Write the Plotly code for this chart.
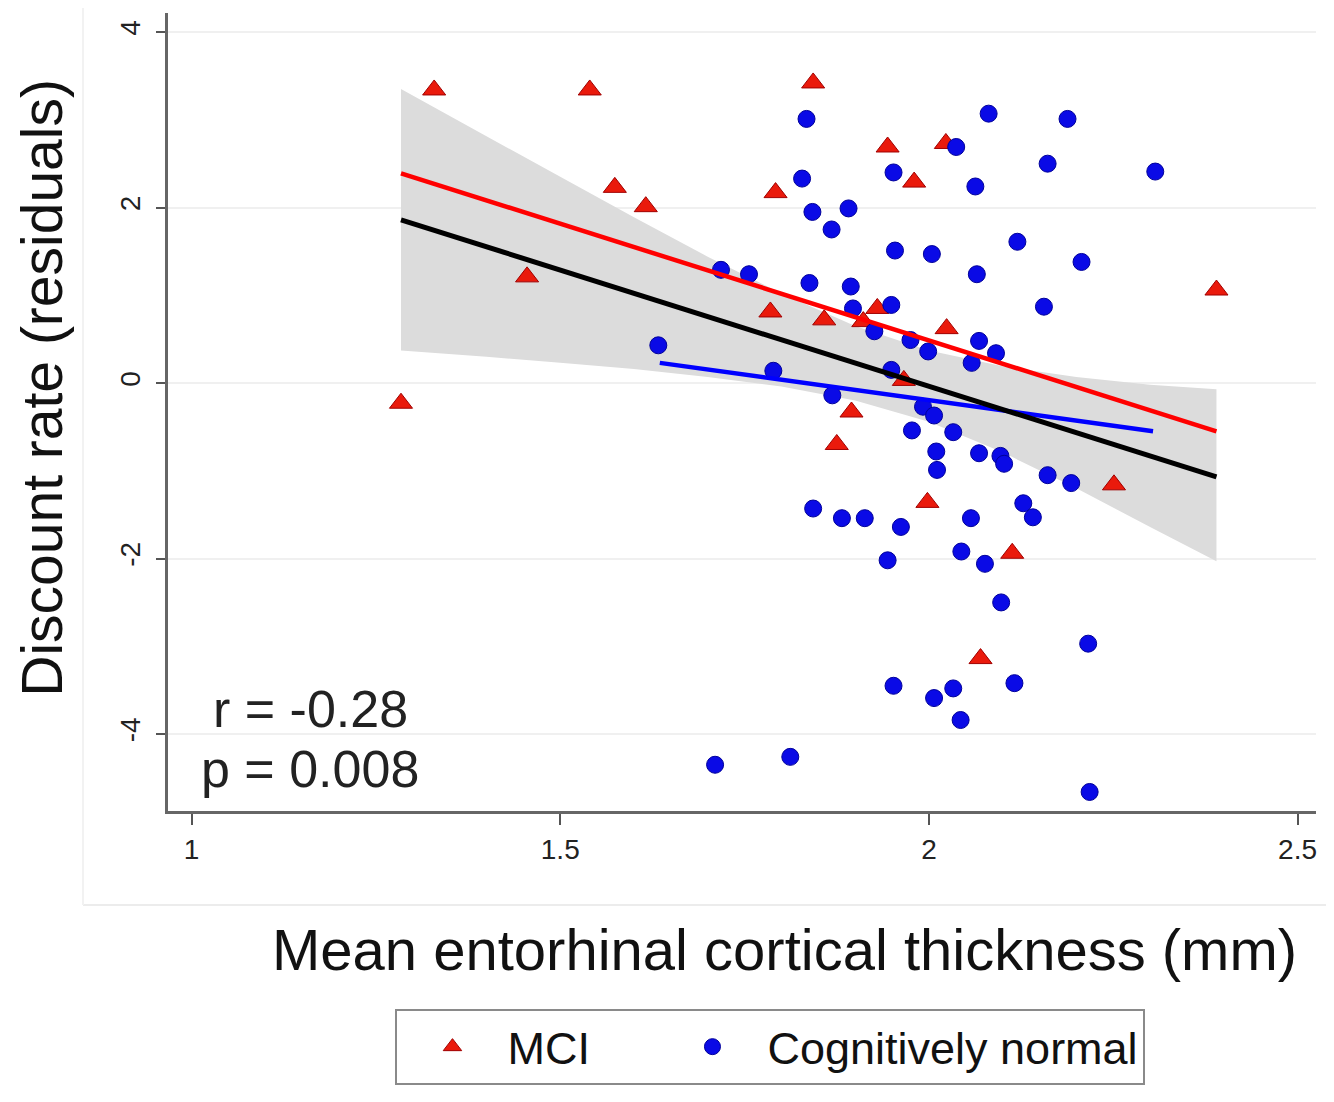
import plotly.graph_objects as go

# ---------------- data ----------------
mci_x = [1.329, 1.540, 1.843, 1.574, 1.616, 1.455, 1.284, 1.792, 1.944, 2.023,
         1.980, 2.390, 1.785, 1.858, 1.930, 1.911, 2.024, 1.966, 1.895, 1.875,
         1.998, 2.251, 2.113, 2.070]
mci_y = [3.34, 3.34, 3.42, 2.23, 2.01, 1.21, -0.23, 2.17, 2.69, 2.73,
         2.29, 1.06, 0.81, 0.72, 0.85, 0.70, 0.62, 0.03, -0.33, -0.70,
         -1.36, -1.16, -1.94, -3.14]

cn_x = [1.834, 2.081, 2.188, 2.037, 2.161, 2.307, 1.952, 2.063, 1.828, 1.842,
        1.891, 1.868, 1.954, 2.004, 2.120, 2.207, 2.065, 1.838, 1.894, 1.718,
        1.756, 2.156, 1.949, 1.897, 1.926, 1.975, 1.999, 2.068, 2.091, 2.058,
        1.789, 1.949, 1.869, 1.992, 2.007, 1.977, 2.033, 2.010, 2.068, 2.097,
        2.102, 2.011, 2.161, 2.193, 1.843, 1.882, 1.913, 1.962, 2.057, 2.128,
        2.141, 1.944, 2.044, 2.076, 2.098, 2.216, 1.952, 2.007, 2.033, 2.116,
        2.043, 1.710, 1.812, 2.218, 1.633]
cn_y = [3.01, 3.07, 3.01, 2.69, 2.50, 2.41, 2.40, 2.24, 2.33, 1.95,
        1.99, 1.75, 1.51, 1.47, 1.61, 1.38, 1.24, 1.14, 1.10, 1.29,
        1.24, 0.87, 0.89, 0.85, 0.59, 0.49, 0.36, 0.48, 0.34, 0.23,
        0.14, 0.15, -0.14, -0.27, -0.37, -0.54, -0.56, -0.78, -0.80, -0.83,
        -0.92, -0.99, -1.05, -1.14, -1.43, -1.54, -1.54, -1.64, -1.54, -1.37,
        -1.53, -2.02, -1.92, -2.06, -2.50, -2.97, -3.45, -3.59, -3.48, -3.42,
        -3.84, -4.35, -4.26, -4.66, 0.43]

# fitted lines (end points)
fit_all_x = [1.284, 2.390]
fit_all_y = [1.86, -1.07]
fit_mci_x = [1.284, 2.390]
fit_mci_y = [2.39, -0.55]
fit_cn_x = [1.635, 2.304]
fit_cn_y = [0.23, -0.55]

# 95% confidence band of the overall fit
ci_x = [1.284, 1.40, 1.50, 1.60, 1.70, 1.80, 1.90, 2.00, 2.10, 2.20, 2.30, 2.39]
ci_hi = [3.35, 2.81, 2.35, 1.89, 1.44, 1.02, 0.65, 0.37, 0.19, 0.07, -0.02, -0.07]
ci_lo = [0.37, 0.30, 0.23, 0.16, 0.07, -0.04, -0.20, -0.44, -0.79, -1.20, -1.64, -2.03]

x_ticks = [1, 1.5, 2, 2.5]
x_tick_text = ["1", "1.5", "2", "2.5"]
y_ticks = [-4, -2, 0, 2, 4]
y_tick_text = ["-4", "-2", "0", "2", "4"]

r_text = "r = -0.28"
p_text = "p = 0.008"

FONT = "Liberation Sans, Arial, Helvetica, sans-serif"
NB = "\u00a0"

fig = go.Figure()

fig.add_trace(go.Scatter(
    x=ci_x + ci_x[::-1], y=ci_hi + ci_lo[::-1],
    fill="toself", fillcolor="#dcdcdc", line=dict(width=0),
    mode="lines", hoverinfo="skip", showlegend=False))

fig.add_trace(go.Scatter(
    x=mci_x, y=mci_y, mode="markers", name="MCI" + NB * 5,
    marker=dict(symbol="triangle-up", size=20, color="#ea1a0c",
                line=dict(color="#a00000", width=1))))

fig.add_trace(go.Scatter(
    x=cn_x, y=cn_y, mode="markers", name="Cognitively normal",
    marker=dict(symbol="circle", size=17, color="#0a0ae6",
                line=dict(color="#00009a", width=1))))

fig.add_trace(go.Scatter(
    x=fit_cn_x, y=fit_cn_y, mode="lines", showlegend=False,
    line=dict(color="#0000ff", width=4.5)))
fig.add_trace(go.Scatter(
    x=fit_all_x, y=fit_all_y, mode="lines", showlegend=False,
    line=dict(color="#000000", width=5)))
fig.add_trace(go.Scatter(
    x=fit_mci_x, y=fit_mci_y, mode="lines", showlegend=False,
    line=dict(color="#ff0000", width=4.5)))

fig.add_annotation(
    x=1.161, y=-3.72, xref="x", yref="y", text=r_text, showarrow=False,
    xanchor="center", yanchor="middle",
    font=dict(family=FONT, size=52, color="#222222"))
fig.add_annotation(
    x=1.161, y=-4.40, xref="x", yref="y", text=p_text, showarrow=False,
    xanchor="center", yanchor="middle",
    font=dict(family=FONT, size=52, color="#222222"))

# axis titles
fig.add_annotation(
    x=0.5366, y=-0.174, xref="paper", yref="paper",
    text="Mean entorhinal cortical thickness (mm)", showarrow=False,
    xanchor="center", yanchor="middle",
    font=dict(family=FONT, size=58, color="#111111"))
fig.add_annotation(
    x=-0.110, y=0.530, xref="paper", yref="paper",
    text="Discount rate (residuals)", showarrow=False, textangle=-90,
    xanchor="center", yanchor="middle",
    font=dict(family=FONT, size=57, color="#111111"))

# faint outline of the plot region
fig.add_shape(type="line", xref="paper", yref="paper",
              x0=-0.074, x1=1.03, y0=-0.1178, y1=-0.1178,
              line=dict(color="#ececec", width=2), layer="below")
fig.add_shape(type="line", xref="paper", yref="paper",
              x0=-0.074, x1=-0.074, y0=-0.1178, y1=1.02,
              line=dict(color="#f2f2f2", width=2), layer="below")

fig.update_layout(
    width=1326, height=1094,
    margin=dict(l=160, r=18, t=5, b=291),
    paper_bgcolor="white", plot_bgcolor="white",
    font=dict(family=FONT, color="#111111"),
    legend=dict(
        orientation="h", x=0.5248, xanchor="center", y=-0.248, yanchor="top",
        bordercolor="#8a8a8a", borderwidth=2,
        font=dict(family=FONT, size=45, color="#111111"),
        itemwidth=100),
    xaxis=dict(
        range=[0.968, 2.525], tickvals=x_ticks, ticktext=x_tick_text,
        showgrid=False, zeroline=False, showline=True, linecolor="#666666",
        linewidth=3, ticks="outside", ticklen=11, tickwidth=2,
        tickcolor="#555555", tickfont=dict(family=FONT, size=28, color="#222222")),
    yaxis=dict(
        range=[-4.877, 4.217], tickvals=y_ticks, ticktext=y_tick_text,
        tickangle=-90, showgrid=True, gridcolor="#f0f0f0", gridwidth=2,
        zeroline=False, showline=True, linecolor="#666666", linewidth=3,
        ticks="outside", ticklen=9, tickwidth=2, tickcolor="#555555",
        ticklabelstandoff=5,
        tickfont=dict(family=FONT, size=28, color="#222222")),
)

fig.write_html("out.html")
